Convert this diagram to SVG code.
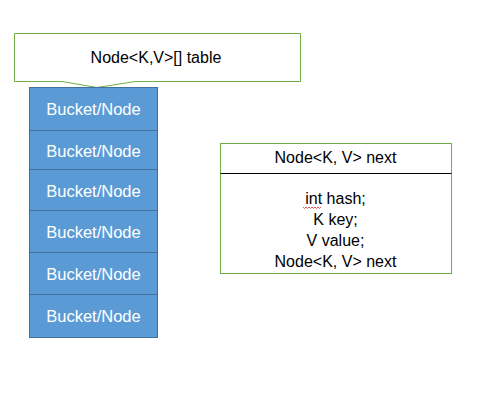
<svg xmlns="http://www.w3.org/2000/svg" width="483" height="420" viewBox="0 0 483 420">
<style>
.callout{fill:#fff;stroke:#70AD47;stroke-width:1}
.bucket{fill:#5B9BD5;stroke:#41719C;stroke-width:1}
.wt{font-family:"Liberation Sans",Arial,sans-serif;font-size:16.5px;fill:#fff;text-anchor:middle}
.bt{font-family:"Liberation Sans",Arial,sans-serif;font-size:16px;fill:#000;text-anchor:middle}
</style>
<rect width="483" height="420" fill="#fff"/>
<g id="table">
<path class="callout" d="M14.5,33.5 H300.5 V81.5 H135 L97,87.5 L62,81.5 H14.5 Z"/>
<text class="bt" x="156" y="63">Node&lt;K,V&gt;[] table</text>
</g>
<g id="buckets">
<g id="bucket1"><rect class="bucket" x="29.5" y="87.5" width="128" height="43"/><text class="wt" x="93.5" y="115">Bucket/Node</text></g>
<g id="bucket2"><rect class="bucket" x="29.5" y="130.5" width="128" height="39"/><text class="wt" x="93.5" y="157">Bucket/Node</text></g>
<g id="bucket3"><rect class="bucket" x="29.5" y="169.5" width="128" height="41"/><text class="wt" x="93.5" y="196.5">Bucket/Node</text></g>
<g id="bucket4"><rect class="bucket" x="29.5" y="210.5" width="128" height="42"/><text class="wt" x="93.5" y="238">Bucket/Node</text></g>
<g id="bucket5"><rect class="bucket" x="29.5" y="252.5" width="128" height="42"/><text class="wt" x="93.5" y="280">Bucket/Node</text></g>
<g id="bucket6"><rect class="bucket" x="29.5" y="294.5" width="128" height="43"/><text class="wt" x="93.5" y="322">Bucket/Node</text></g>
</g>
<g id="node">
<rect x="220.5" y="143.5" width="231" height="130" fill="#fff" stroke="#70AD47" stroke-width="1"/>
<line x1="220.5" y1="173.5" x2="451.5" y2="173.5" stroke="#000" stroke-width="1"/>
<text class="bt" x="335.5" y="162.5">Node&lt;K, V&gt; next</text>
<text class="bt" x="335.5" y="203.5">int hash;</text>
<text class="bt" x="335.5" y="224.5">K key;</text>
<text class="bt" x="335.5" y="245.5">V value;</text>
<text class="bt" x="335.5" y="266.5">Node&lt;K, V&gt; next</text>
<path d="M303,207 l1.5,1.5 l1.5,-1.5 l1.5,1.5 l1.5,-1.5 l1.5,1.5 l1.5,-1.5 l1.5,1.5 l1.5,-1.5 l1.5,1.5 l1.5,-1.5 l1.5,1.5 l1.5,-1.5" fill="none" stroke="#E03030" stroke-width="0.8"/>
</g>
<g id="connectors"></g>
</svg>
